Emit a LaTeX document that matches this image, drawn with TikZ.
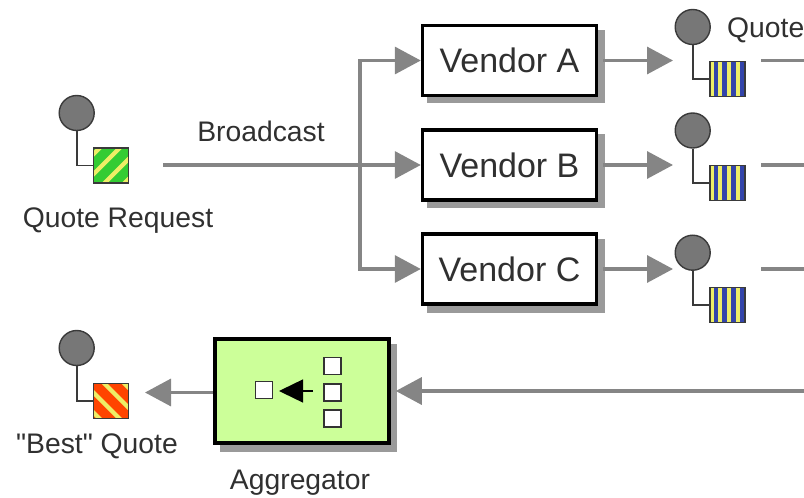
\documentclass[tikz,border=0pt]{standalone}
\usepackage{fontspec}
\newfontfamily\diagfont{Liberation Sans}
\usetikzlibrary{arrows.meta,calc}
\definecolor{flowgray}{HTML}{858585}
\definecolor{labelgray}{HTML}{303030}
\definecolor{shadowgray}{HTML}{9A9A9A}
\definecolor{dotgray}{HTML}{777777}
\definecolor{dotedge}{HTML}{3A3A3A}
\definecolor{aggfill}{HTML}{CCFF99}
\definecolor{sgreen}{HTML}{33CC33}
\definecolor{syellow}{HTML}{EEEE66}
\definecolor{sblue}{HTML}{3344AA}
\definecolor{sred}{HTML}{FF4400}
\tikzset{
  x=1pt,y=-1pt,
  flow/.style={draw=flowgray,line width=3.4pt},
  flowarrow/.style={flow,-{Triangle[length=26pt,width=27pt,fill=flowgray]}},
  lbl/.style={text=labelgray,font=\diagfont\fontsize{28.3}{30}\selectfont,inner sep=0pt},
  vendor/.style={draw=black,line width=3.4pt,fill=white,minimum width=174pt,minimum height=70pt,inner sep=0pt,text=labelgray,font=\diagfont\fontsize{34}{36}\selectfont},
  boxshadow/.style={fill=shadowgray,draw=none},
  dot/.style={circle,draw=dotedge,fill=dotgray,line width=1.4pt,minimum size=35pt,inner sep=0pt},
  stem/.style={draw=dotedge,line width=1.6pt},
  msg/.style={minimum size=35pt,inner sep=0pt,outer sep=0pt},
  tiny/.style={draw=black!80,fill=white,line width=1.5pt,minimum size=17pt,inner sep=0pt}
}
\newcommand{\chanend}[5]{% name, circle cx, cy, square cx, cy
  \node[dot] (#1c) at (#2,#3) {};
  \node[msg] (#1m) at (#4,#5) {};
  \draw[stem] (#1c.south) |- (#1m.west);
}
\newcommand{\diagstripes}[3]{% node, colour, direction
  \begin{scope}
    \clip (#1.south west) rectangle (#1.north east);
    \fill[#2] (#1.south west) rectangle (#1.north east);
    \foreach \k in {-50,-30,-10,10}{
      \ifnum#3=1
        \fill[syellow] ($(#1.center)+(\k,18)$) -- ++(6,0) -- ++(36,-36) -- ++(-6,0) -- cycle;
      \else
        \fill[syellow] ($(#1.center)+(\k,-18)$) -- ++(6,0) -- ++(36,36) -- ++(-6,0) -- cycle;
      \fi
    }
  \end{scope}
  \draw[draw=dotedge,line width=1.4pt] (#1.south west) rectangle (#1.north east);
}
\newcommand{\vstripes}[1]{%
  \begin{scope}
    \clip (#1.south west) rectangle (#1.north east);
    \fill[sblue] (#1.south west) rectangle (#1.north east);
    \foreach \k in {-16,-8,1,10}{
      \fill[syellow] ($(#1.center)+(\k-2,-18)$) rectangle ($(#1.center)+(\k+2,18)$);
    }
  \end{scope}
  \draw[draw=dotedge,line width=1.4pt] (#1.south west) rectangle (#1.north east);
}
\begin{document}
\begin{tikzpicture}
\useasboundingbox (0,0) rectangle (804,498);
% shadows
\fill[boxshadow] (427,30) rectangle (605,103);
\fill[boxshadow] (427,134) rectangle (605,208);
\fill[boxshadow] (427,239) rectangle (605,313);
\fill[boxshadow] (220,344) rectangle (397,452);
% boxes
\node[vendor] (va) at (509.5,60.5) {Vendor A};
\node[vendor] (vb) at (509.5,165) {Vendor B};
\node[vendor] (vc) at (509.5,269) {Vendor C};
\node[draw=black,line width=3.6pt,fill=aggfill,minimum width=174pt,minimum height=104pt,inner sep=0pt] (agg) at (302,391) {};
% endpoints
\chanend{qr}{76.7}{113}{111}{165.5}
\chanend{a}{692.7}{27}{727.5}{79}
\chanend{b}{692.7}{130.5}{727.5}{183}
\chanend{c}{692.7}{252.7}{727.5}{305}
\chanend{bq}{76.7}{348}{111}{401}
\diagstripes{qrm}{sgreen}{1}
\vstripes{am}
\vstripes{bm}
\vstripes{cm}
\diagstripes{bqm}{sred}{0}
% aggregator internals
\node[tiny] (in1) at (332.5,366) {};
\node[tiny] (in2) at (332.5,392.5) {};
\node[tiny] (in3) at (332.5,418.5) {};
\node[tiny] (out) at (264,390) {};
\coordinate (ia) at (313,391);
\coordinate (ib) at (279,391);
\draw[draw=black,line width=1.4pt,-{Triangle[length=24pt,width=23pt,fill=black]}] (ia) -- (ib);
% connectors
\coordinate (qs) at (163,165);
\coordinate (junction) at (360,165);
\draw[flow] (qs) -- (junction);
\draw[flowarrow] (junction) -- (vb.west);
\draw[flowarrow] (junction) |- (va.west);
\draw[flowarrow] (junction) |- (vc.west);
\coordinate (atip) at (673,60.5);
\coordinate (btip) at (673,165);
\coordinate (ctip) at (673,269);
\draw[flowarrow] ($(va.east)+(5,0)$) -- (atip);
\draw[flowarrow] ($(vb.east)+(5,0)$) -- (btip);
\draw[flowarrow] ($(vc.east)+(5,0)$) -- (ctip);
\coordinate (as) at (761,60.5);
\coordinate (bs) at (761,165);
\coordinate (cs) at (761,269);
\coordinate (ae) at (804,60.5);
\coordinate (be) at (804,165);
\coordinate (ce) at (804,269);
\coordinate (re) at (804,391);
\draw[flow] (as) -- (ae);
\draw[flow] (bs) -- (be);
\draw[flow] (cs) -- (ce);
\draw[flowarrow] (re) -- ($(agg.east)+(5,0)$);
\coordinate (bqa) at (145,392.5);
\draw[flowarrow] ($(agg.west)+(0,1.5)$) -- (bqa);
% labels
\node[lbl] (l1) at (261,131.5) {Broadcast};
\node[lbl] (l2) at (118,221) {Quote Request};
\node[lbl,anchor=west] (l3) at (727,30) {Quote};
\node[lbl] (l4) at (97,446) {"Best" Quote};
\node[lbl] (l5) at (300,483) {Aggregator};
\end{tikzpicture}
\end{document}
